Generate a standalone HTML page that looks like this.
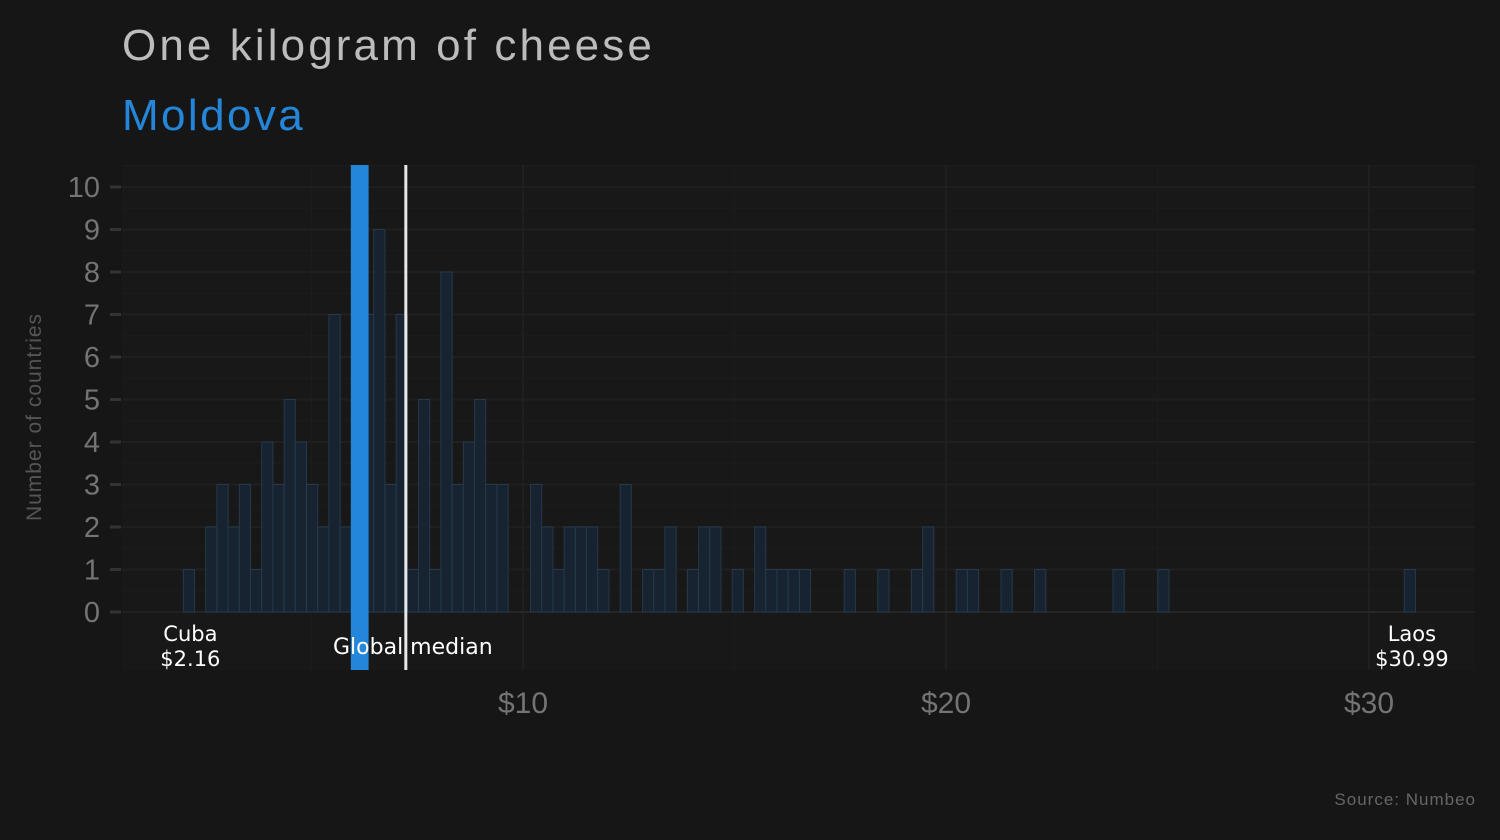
<!DOCTYPE html>
<html><head><meta charset="utf-8"><style>
body{margin:0;background:#161616;}
svg{display:block;font-family:"Liberation Sans",sans-serif;}
</style></head><body>
<svg id="chart" width="1500" height="840" viewBox="0 0 1500 840" xmlns="http://www.w3.org/2000/svg">
<rect width="1500" height="840" fill="#161616"/>
<rect x="122" y="165" width="1353" height="505" fill="#181818"/>
<g id="grid"></g>
<g id="bars"></g>
<g id="marks"></g>
<g id="axes"></g>
<text x="122" y="60" font-size="44" letter-spacing="3.1" fill="#bcbcbc">One kilogram of cheese</text>
<text x="122" y="130" font-size="44" letter-spacing="2.4" fill="#2486d9">Moldova</text>
<text transform="translate(41,417) rotate(-90)" text-anchor="middle" font-size="21" letter-spacing="1" fill="#555">Number of countries</text>
<text x="1476" y="805" text-anchor="end" font-size="17" letter-spacing="1" fill="#666">Source: Numbeo</text>
</svg>
<script>
const binStart = 1.97;
const binWidth = 0.2648;
const counts = [1,0,2,3,2,3,1,4,3,5,4,3,2,7,2,2,7,9,3,7,1,5,1,8,3,4,5,3,3,0,0,3,2,1,2,2,2,1,0,3,0,1,1,2,0,1,2,2,0,1,0,2,1,1,1,1,0,0,0,1,0,0,1,0,0,1,2,0,0,1,1,0,0,1,0,0,1,0,0,0,0,0,0,1,0,0,0,1,0,0,0,0,0,0,0,0,0,0,0,0,0,0,0,0,0,0,0,0,0,1];
const highlightValue = 5.93;
const highlightWidth = 0.42;
const medianValue = 7.23;
const yTicks = [0,1,2,3,4,5,6,7,8,9,10];
const xTicks = [10,20,30];
const xTickLabels = ["$10","$20","$30"];
const minLabel = ["Cuba","$2.16"];
const maxLabel = ["Laos","$30.99"];
const minValue = 2.16, maxValue = 30.99;

const NS = "http://www.w3.org/2000/svg";
const X = v => 100 + 42.3 * v;
const Y = c => 612 - 42.5 * c;
function mk(tag, attrs, parent){const e=document.createElementNS(NS,tag);for(const k in attrs)e.setAttribute(k,attrs[k]);parent.appendChild(e);return e;}
const grid=document.getElementById('grid'),bars=document.getElementById('bars'),marks=document.getElementById('marks'),axes=document.getElementById('axes');

yTicks.forEach(t=>{
  const l=mk('line',{x1:122,x2:1475,y1:Y(t),y2:Y(t),stroke:'#1f1f1f','stroke-width':2},grid);
  
  
  const m=mk('line',{x1:122,x2:1475,y1:Y(t+0.5),y2:Y(t+0.5),stroke:'#1c1c1c','stroke-width':1},grid);
  
  
  const tk=mk('line',{x1:110,x2:121,y1:Y(t),y2:Y(t),stroke:'#333','stroke-width':3},axes);
  
  
  const tx=mk('text',{x:100,y:Y(t)+10,'text-anchor':'end','font-size':29,fill:'#747474'},axes);
  tx.textContent=t;
  
  
});
xTicks.forEach((t,i)=>{
  const l=mk('line',{x1:X(t),x2:X(t),y1:165,y2:670,stroke:'#1f1f1f','stroke-width':2},grid);
  
  
  const m=mk('line',{x1:X(t-5),x2:X(t-5),y1:165,y2:670,stroke:'#1c1c1c','stroke-width':1},grid);
  
  
  const tx=mk('text',{x:X(t),y:713,'text-anchor':'middle','font-size':30,fill:'#747474'},axes);
  tx.textContent=xTickLabels[i];
  
  
});
mk('line',{x1:X(binStart),x2:X(binStart+binWidth*counts.length),y1:Y(0),y2:Y(0),stroke:'#2a2f35','stroke-width':1},bars);
counts.forEach((c,i)=>{
  if(c<=0)return;
  const x0=X(binStart+i*binWidth),x1=X(binStart+(i+1)*binWidth);
  const r=mk('rect',{x:x0,y:Y(c),width:x1-x0,height:Y(0)-Y(c),fill:'#172330',stroke:'#26394b','stroke-width':1},bars);
  
  
});
const hb=mk('rect',{x:X(highlightValue),y:165,width:X(highlightValue+highlightWidth)-X(highlightValue),height:505,fill:'#2486d9'},marks);


const ml=mk('rect',{x:X(medianValue)-1.5,y:165,width:3,height:505,fill:'#e8e8e8'},marks);


const mt=mk('text',{x:X(medianValue)+7,y:654,'text-anchor':'middle','font-size':22,fill:'#fff','font-family':'DejaVu Sans, sans-serif'},marks);
mt.textContent='Global median';


[[minLabel,minValue,'min-country-label',-1],[maxLabel,maxValue,'max-country-label',1]].forEach(([lab,v,n,dx])=>{
  lab.forEach((s,j)=>{
    const t=mk('text',{x:X(v)+dx,y:641+j*25,'text-anchor':'middle','font-size':21,fill:'#fff','font-family':'DejaVu Sans, sans-serif'},marks);
    t.textContent=s;
    
    
  });
});
</script>
</body></html>
